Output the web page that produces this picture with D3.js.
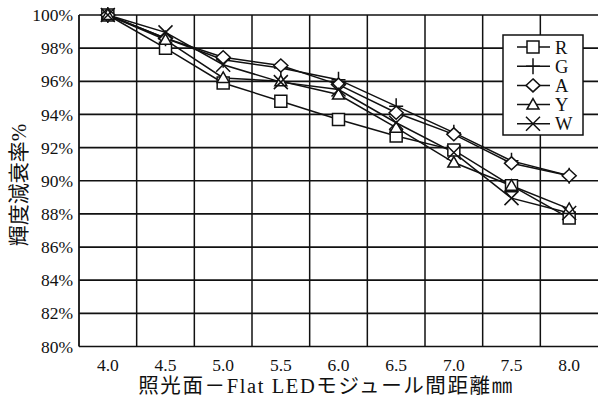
<!DOCTYPE html>
<html>
<head>
<meta charset="utf-8">
<script src="https://cdn.jsdelivr.net/npm/d3@7"></script>
<style>
  html, body { margin: 0; padding: 0; background: #fff; }
  svg { display: block; }
  text { font-family: "Liberation Serif", "Noto Sans CJK JP", serif; fill: #111; }
</style>
</head>
<body>
<svg id="chart" width="598" height="409"></svg>
<script>
// Distance between the lit surface and the Flat LED module (mm)
const categories = ["4.0", "4.5", "5.0", "5.5", "6.0", "6.5", "7.0", "7.5", "8.0"];

// Luminance retention (%) for each colour
const valuesR = [100, 98.0, 95.9, 94.8, 93.7, 92.7, 91.85, 89.7, 87.75];
const valuesG = [100, 98.6, 97.3, 96.8, 96.1, 94.5, 92.9, 91.2, 90.3];
const valuesA = [100, 98.6, 97.45, 96.95, 95.8, 94.1, 92.8, 91.05, 90.3];
const valuesY = [100, 98.5, 96.2, 96.0, 95.2, 93.2, 91.1, 89.7, 88.3];
const valuesW = [100, 98.95, 97.0, 95.95, 95.5, 93.5, 91.7, 88.95, 88.05];

const seriesNames = ["R", "G", "A", "Y", "W"];
const seriesShapes = ["square", "plus", "diamond", "triangle", "cross"];
const seriesValues = [valuesR, valuesG, valuesA, valuesY, valuesW];

const yTicks = [80, 82, 84, 86, 88, 90, 92, 94, 96, 98, 100];

const xTitle = "照光面－Flat LEDモジュール間距離㎜";
const yTitle = "輝度減衰率%";

const svg = d3.select("#chart");
const margin = { left: 79, right: 0, top: 15, bottom: 62.5 };
const W = 598, H = 409;

const x = d3.scaleBand().domain(categories).range([margin.left, W - margin.right]).padding(0);
const y = d3.scaleLinear().domain([80, 100]).range([H - margin.bottom, margin.top]);

const ink = "#111";

// horizontal grid
const grid = svg.append("g");
grid.selectAll("line.h").data(yTicks).join("line")
  .attr("x1", margin.left).attr("x2", W)
  .attr("y1", d => y(d)).attr("y2", d => y(d))
  .attr("stroke", ink).attr("stroke-width", 1.7);

// vertical grid at band boundaries
grid.selectAll("line.v").data(categories.slice(1)).join("line")
  .attr("x1", d => x(d)).attr("x2", d => x(d))
  .attr("y1", y(100)).attr("y2", y(80))
  .attr("stroke", ink).attr("stroke-width", 1.5);

// left frame
grid.append("line")
  .attr("x1", margin.left).attr("x2", margin.left)
  .attr("y1", y(100)).attr("y2", y(80))
  .attr("stroke", ink).attr("stroke-width", 1.8);

// y axis labels
const yAxis = d3.axisLeft(y).tickValues(yTicks).tickSize(0).tickPadding(6).tickFormat(d => d + "%");
const gy = svg.append("g").attr("transform", `translate(${margin.left},0)`).call(yAxis);
gy.select(".domain").remove();
gy.selectAll("text").attr("font-size", 17.5).attr("font-family", "Liberation Serif, serif").attr("fill", ink);

// x axis labels
const xAxis = d3.axisBottom(x).tickSize(0).tickPadding(12);
const gx = svg.append("g").attr("transform", `translate(0,${y(80)})`).call(xAxis);
gx.select(".domain").remove();
gx.selectAll("text").attr("font-size", 17.5).attr("font-family", "Liberation Serif, serif").attr("fill", ink);

// axis titles
svg.append("text")
  .attr("x", 326).attr("y", 393)
  .attr("text-anchor", "middle")
  .attr("font-size", 20.5)
  .attr("letter-spacing", 1.6)
  .text(xTitle);

svg.append("text")
  .attr("transform", "translate(26,185) rotate(-90)")
  .attr("text-anchor", "middle")
  .attr("font-size", 21)
  .text(yTitle);

// marker shapes
function markerPath(shape) {
  switch (shape) {
    case "square": return "M-6,-6H6V6H-6Z";
    case "plus": return "M-7,0H7M0,-8V8";
    case "diamond": return "M0,-6.5L7,0L0,6.5L-7,0Z";
    case "triangle": return "M0,-6L6,4.5H-6Z";
    case "cross": return "M-7,-7L7,7M-7,7L7,-7";
  }
}

const cx = d => x(d) + x.bandwidth() / 2;
const line = d3.line().x(d => cx(d.c)).y(d => y(d.v));

const series = seriesNames.map((name, i) => ({
  name,
  shape: seriesShapes[i],
  points: categories.map((c, j) => ({ c, v: seriesValues[i][j] }))
}));

// lines
svg.append("g").selectAll("path").data(series).join("path")
  .attr("d", s => line(s.points))
  .attr("fill", "none").attr("stroke", ink).attr("stroke-width", 1.5);

// markers
const markerG = svg.append("g");
series.forEach(s => {
  markerG.append("g").selectAll("path").data(s.points).join("path")
    .attr("transform", d => `translate(${cx(d.c)},${y(d.v)})`)
    .attr("d", markerPath(s.shape))
    .attr("fill", (s.shape === "plus" || s.shape === "cross") ? "none" : "#fff")
    .attr("stroke", ink).attr("stroke-width", 1.5);
});

// legend
const lg = svg.append("g");
lg.append("rect")
  .attr("x", 503).attr("y", 35).attr("width", 80).attr("height", 100)
  .attr("fill", "#fff").attr("stroke", ink).attr("stroke-width", 1.5);
series.forEach((s, i) => {
  const ly = 47 + i * 19.2;
  lg.append("line").attr("x1", 517).attr("x2", 550).attr("y1", ly).attr("y2", ly)
    .attr("stroke", ink).attr("stroke-width", 1.5);
  lg.append("path").attr("transform", `translate(533,${ly})`)
    .attr("d", markerPath(s.shape))
    .attr("fill", (s.shape === "plus" || s.shape === "cross") ? "none" : "#fff")
    .attr("stroke", ink).attr("stroke-width", 1.5);
  lg.append("text").attr("x", 555).attr("y", ly + 6.5)
    .attr("font-size", 18.5).text(s.name);
});
</script>
</body>
</html>
